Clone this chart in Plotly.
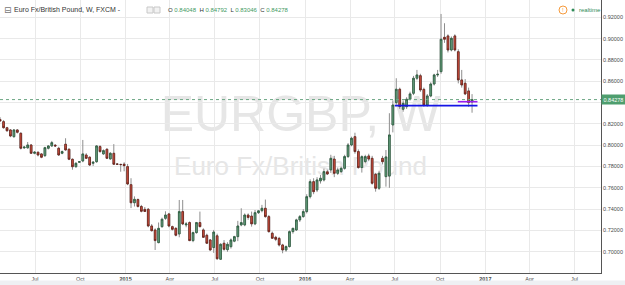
import plotly.graph_objects as go
import pandas as pd

# ---------------- data ----------------
symbol_title = "Euro Fx/British Pound, W, FXCM"
watermark_symbol = "EURGBP, W"
watermark_name = "Euro Fx/British Pound"

weeks = pd.date_range("2014-04-21", periods=138, freq="7D")

opens = [0.8240, 0.8221, 0.8164, 0.8143, 0.8080, 0.8143, 0.8112, 0.7975, 0.7975, 0.8002,
         0.7924, 0.7934, 0.7918, 0.7902, 0.7971, 0.7993, 0.8000, 0.7971, 0.7924, 0.8009,
         0.7962, 0.7868, 0.7798, 0.7840, 0.7852, 0.7908, 0.7887, 0.7830, 0.7845, 0.7987,
         0.7918, 0.7962, 0.7871, 0.7924, 0.7824, 0.7820, 0.7822, 0.7799, 0.7630, 0.7460,
         0.7490, 0.7425, 0.7398, 0.7399, 0.7242, 0.7205, 0.7086, 0.7236, 0.7314, 0.7355,
         0.7236, 0.7220, 0.7167, 0.7377, 0.7252, 0.7274, 0.7105, 0.7180, 0.7274, 0.7205,
         0.7155, 0.7111, 0.7040, 0.7150, 0.6930, 0.7080, 0.7020, 0.7048, 0.7100, 0.7142,
         0.7252, 0.7252, 0.7345, 0.7335, 0.7262, 0.7367, 0.7386, 0.7408, 0.7330, 0.7174,
         0.7136, 0.7126, 0.7064, 0.7017, 0.7049, 0.7189, 0.7205, 0.7299, 0.7330, 0.7377,
         0.7517, 0.7658, 0.7580, 0.7665, 0.7674, 0.7750, 0.7768, 0.7870, 0.7736, 0.7752,
         0.7783, 0.7893, 0.8002, 0.8080, 0.7940, 0.7790, 0.7846, 0.7899, 0.7877, 0.7727,
         0.7596, 0.7877, 0.7705, 0.7710, 0.8190, 0.8399, 0.8525, 0.8337, 0.8361, 0.8431,
         0.8487, 0.8628, 0.8652, 0.8524, 0.8377, 0.8462, 0.8574, 0.8659, 0.8690, 0.9012,
         0.9025, 0.8893, 0.9025, 0.8877, 0.8612, 0.8581, 0.8509, 0.84048]
highs = [0.8262, 0.8235, 0.8172, 0.8150, 0.8150, 0.8150, 0.8120, 0.7990, 0.8030, 0.8010,
         0.7945, 0.7940, 0.7925, 0.7985, 0.8000, 0.8040, 0.8010, 0.7985, 0.7950, 0.8065,
         0.7970, 0.7875, 0.7840, 0.7850, 0.8049, 0.7925, 0.7895, 0.7850, 0.8000, 0.8000,
         0.7960, 0.7970, 0.7935, 0.8010, 0.7830, 0.7825, 0.7840, 0.7824, 0.7690, 0.7520,
         0.7500, 0.7440, 0.7420, 0.7410, 0.7260, 0.7220, 0.7275, 0.7320, 0.7380, 0.7365,
         0.7245, 0.7230, 0.7486, 0.7486, 0.7280, 0.7285, 0.7190, 0.7280, 0.7377, 0.7220,
         0.7170, 0.7120, 0.7205, 0.7170, 0.7080, 0.7110, 0.7090, 0.7125, 0.7150, 0.7290,
         0.7408, 0.7360, 0.7360, 0.7377, 0.7392, 0.7390, 0.7440, 0.7490, 0.7345, 0.7190,
         0.7150, 0.7140, 0.7075, 0.7060, 0.7200, 0.7225, 0.7310, 0.7345, 0.7400, 0.7540,
         0.7680, 0.7690, 0.7700, 0.7720, 0.7780, 0.7770, 0.7910, 0.7900, 0.7790, 0.7800,
         0.7910, 0.8020, 0.8080, 0.8117, 0.7960, 0.7905, 0.7910, 0.7920, 0.7900, 0.7740,
         0.7760, 0.7900, 0.7955, 0.8300, 0.8420, 0.8628, 0.8540, 0.8420, 0.8450, 0.8502,
         0.8650, 0.8706, 0.8670, 0.8540, 0.8480, 0.8590, 0.8670, 0.8706, 0.9231, 0.9144,
         0.9040, 0.9020, 0.9040, 0.8900, 0.8706, 0.8620, 0.8540, 0.84792]
lows = [0.8222, 0.8155, 0.8125, 0.8075, 0.8070, 0.8110, 0.7960, 0.7965, 0.7968, 0.7918,
        0.7915, 0.7895, 0.7878, 0.7890, 0.7960, 0.7985, 0.7985, 0.7900, 0.7915, 0.7950,
        0.7860, 0.7770, 0.7790, 0.7835, 0.7840, 0.7870, 0.7805, 0.7805, 0.7835, 0.7930,
        0.7910, 0.7870, 0.7865, 0.7815, 0.7815, 0.7751, 0.7755, 0.7625, 0.7410, 0.7425,
        0.7415, 0.7370, 0.7375, 0.7230, 0.7190, 0.7017, 0.7080, 0.7225, 0.7300, 0.7230,
        0.7200, 0.7145, 0.7136, 0.7250, 0.7230, 0.7100, 0.7090, 0.7170, 0.7230, 0.7130,
        0.7075, 0.7010, 0.6990, 0.6925, 0.6925, 0.7010, 0.7000, 0.7030, 0.7090, 0.7100,
        0.7240, 0.7240, 0.7300, 0.7236, 0.7250, 0.7355, 0.7370, 0.7320, 0.7180, 0.7120,
        0.7100, 0.7050, 0.6986, 0.7000, 0.7040, 0.7170, 0.7195, 0.7280, 0.7320, 0.7360,
        0.7500, 0.7540, 0.7560, 0.7640, 0.7660, 0.7720, 0.7740, 0.7700, 0.7720, 0.7740,
        0.7770, 0.7880, 0.7990, 0.7920, 0.7780, 0.7743, 0.7830, 0.7850, 0.7630, 0.7564,
        0.7580, 0.7820, 0.7611, 0.7600, 0.8120, 0.8380, 0.8340, 0.8314, 0.8340, 0.8420,
        0.8470, 0.8610, 0.8500, 0.8361, 0.8360, 0.8450, 0.8560, 0.8640, 0.8670, 0.8960,
        0.8870, 0.8880, 0.8880, 0.8580, 0.8540, 0.8470, 0.8360, 0.83046]
closes = [0.8228, 0.8164, 0.8136, 0.8086, 0.8143, 0.8121, 0.7971, 0.7982, 0.8002, 0.7924,
          0.7934, 0.7908, 0.7887, 0.7977, 0.7993, 0.8024, 0.7993, 0.7908, 0.7940, 0.7955,
          0.7868, 0.7798, 0.7830, 0.7845, 0.7918, 0.7877, 0.7814, 0.7840, 0.7993, 0.7940,
          0.7949, 0.7877, 0.7924, 0.7821, 0.7821, 0.7818, 0.7808, 0.7636, 0.7460, 0.7492,
          0.7425, 0.7380, 0.7378, 0.7242, 0.7198, 0.7105, 0.7220, 0.7305, 0.7345, 0.7242,
          0.7211, 0.7155, 0.7377, 0.7261, 0.7261, 0.7105, 0.7180, 0.7274, 0.7236, 0.7136,
          0.7080, 0.7017, 0.7185, 0.6935, 0.7070, 0.7023, 0.7070, 0.7111, 0.7142, 0.7242,
          0.7274, 0.7345, 0.7322, 0.7262, 0.7367, 0.7384, 0.7408, 0.7330, 0.7189, 0.7127,
          0.7117, 0.7064, 0.7017, 0.7049, 0.7189, 0.7220, 0.7299, 0.7330, 0.7377, 0.7517,
          0.7658, 0.7564, 0.7674, 0.7690, 0.7752, 0.7730, 0.7877, 0.7736, 0.7768, 0.7783,
          0.7893, 0.8002, 0.8065, 0.7940, 0.7790, 0.7893, 0.7893, 0.7870, 0.7643, 0.7596,
          0.7737, 0.7845, 0.7890, 0.8096, 0.8377, 0.8525, 0.8362, 0.8393, 0.8431, 0.8481,
          0.8628, 0.8659, 0.8518, 0.8377, 0.8462, 0.8574, 0.8659, 0.8665, 0.8994, 0.8994,
          0.8893, 0.9003, 0.8893, 0.8612, 0.8565, 0.8481, 0.8399, 0.84278]

price_ticks = [0.70, 0.72, 0.74, 0.76, 0.78, 0.80, 0.82, 0.84, 0.86, 0.88, 0.90, 0.92]
time_ticks = ["2014-07-01", "2014-10-01", "2015-01-01", "2015-04-01", "2015-07-01",
              "2015-10-01", "2016-01-01", "2016-04-01", "2016-07-01", "2016-10-01",
              "2017-01-01", "2017-04-01", "2017-07-01"]
time_tick_labels = ["Jul", "Oct", "<b>2015</b>", "Apr", "Jul", "Oct", "<b>2016</b>",
                    "Apr", "Jul", "Oct", "<b>2017</b>", "Apr", "Jul"]

support_level = 0.8371
support_span = ["2016-07-01", "2016-12-16"]
entry_level = 0.8408
entry_span = ["2016-11-06", "2016-12-16"]

x_range = ["2014-04-20 18:00", "2017-08-24"]
y_range = [0.6801, 0.9362]

# ---------------- style ----------------
UP_FILL, UP_LINE = "#6ba583", "#225437"
DN_FILL, DN_LINE = "#d75442", "#5b1a13"
WICK = "#8e8e8e"
GRID = "#e9e9e9"
AXIS = "#555555"
TXT = "#4a4a4a"
FONT = "Liberation Sans, Arial, sans-serif"

body_hi = [max(o, c) for o, c in zip(opens, closes)]
body_lo = [min(o, c) for o, c in zip(opens, closes)]

fig = go.Figure()
# wicks
fig.add_trace(go.Candlestick(
    x=weeks, open=opens, high=highs, low=lows, close=closes,
    increasing=dict(line=dict(color=WICK, width=1), fillcolor=UP_FILL),
    decreasing=dict(line=dict(color=WICK, width=1), fillcolor=DN_FILL),
    showlegend=False, hoverinfo="skip"))
# bodies with dark borders
fig.add_trace(go.Candlestick(
    x=weeks, open=opens, high=body_hi, low=body_lo, close=closes,
    increasing=dict(line=dict(color=UP_LINE, width=0.7), fillcolor=UP_FILL),
    decreasing=dict(line=dict(color=DN_LINE, width=0.7), fillcolor=DN_FILL),
    showlegend=False))

shapes = []
# watermark (behind candles)
shapes.append(dict(type="rect", xref="paper", yref="paper", x0=0.2, x1=0.8, y0=0.50, y1=0.70,
                   line=dict(width=0), fillcolor="rgba(0,0,0,0)", layer="below",
                   label=dict(text=watermark_symbol, font=dict(size=50, color="#e6e6e6", family=FONT),
                              textposition="middle center")))
shapes.append(dict(type="rect", xref="paper", yref="paper", x0=0.2, x1=0.8, y0=0.33, y1=0.47,
                   line=dict(width=0), fillcolor="rgba(0,0,0,0)", layer="below",
                   label=dict(text=watermark_name, font=dict(size=26, color="#e6e6e6", family=FONT),
                              textposition="middle center")))
# last price dotted line
shapes.append(dict(type="line", xref="paper", yref="y", x0=0, x1=1, y0=closes[-1], y1=closes[-1],
                   line=dict(color=UP_FILL, width=1, dash="dot")))
# drawn levels
shapes.append(dict(type="line", xref="x", yref="y", x0=support_span[0], x1=support_span[1],
                   y0=support_level, y1=support_level, line=dict(color="#1414e6", width=1.6)))
shapes.append(dict(type="line", xref="x", yref="y", x0=entry_span[0], x1=entry_span[1],
                   y0=entry_level, y1=entry_level, line=dict(color="#9b1cf0", width=1.6)))
# header icons
def px2paper(px, py):
    return px / 601.0, (273.0 - py) / 273.0
for x0 in (147, 154):
    a = px2paper(x0, 7); b = px2paper(x0 + 6, 13)
    shapes.append(dict(type="rect", xref="paper", yref="paper", x0=a[0], x1=b[0], y0=b[1], y1=a[1],
                       line=dict(color="#c8c8c8", width=1), fillcolor="#f2f2f2"))
# realtime icons
a = px2paper(559, 6); b = px2paper(567, 14)
shapes.append(dict(type="circle", xref="paper", yref="paper", x0=a[0], x1=b[0], y0=b[1], y1=a[1],
                   line=dict(color="#f59a3c", width=1)))
a = px2paper(571.5, 8.5); b = px2paper(574.5, 11.5)
shapes.append(dict(type="circle", xref="paper", yref="paper", x0=a[0], x1=b[0], y0=b[1], y1=a[1],
                   line=dict(color="#2e8b57", width=0), fillcolor="#2e8b57"))
# bottom band
shapes.append(dict(type="rect", xref="paper", yref="paper", x0=-0.01, x1=1.05,
                   y0=(273 - 286) / 273.0, y1=(273 - 280.5) / 273.0,
                   line=dict(width=0), fillcolor="#eef0f3"))

ann = []
hx, hy = px2paper(2, 10)
ann.append(dict(x=hx, y=hy, xref="paper", yref="paper", text="⊟", showarrow=False,
                xanchor="left", yanchor="middle", font=dict(size=9, color="#777", family="DejaVu Sans")))
hx, hy = px2paper(12, 10)
ann.append(dict(x=hx, y=hy, xref="paper", yref="paper", text=symbol_title + " -", showarrow=False,
                xanchor="left", yanchor="middle", font=dict(size=7, color="#333", family=FONT)))
G = "#3f9a63"
ohlc_txt = ("O <span style='color:%s'>%.5f</span>  H <span style='color:%s'>%.5f</span>  "
            "L <span style='color:%s'>%.5f</span>  C <span style='color:%s'>%.5f</span>") % (
    G, opens[-1], G, highs[-1], G, lows[-1], G, closes[-1])
hx, hy = px2paper(166, 10)
ann.append(dict(x=hx, y=hy, xref="paper", yref="paper", text=ohlc_txt, showarrow=False,
                xanchor="left", yanchor="middle", font=dict(size=6, color="#333", family=FONT)))
hx, hy = px2paper(563, 10)
ann.append(dict(x=hx, y=hy, xref="paper", yref="paper", text="!", showarrow=False,
                xanchor="center", yanchor="middle", font=dict(size=6, color="#f59a3c", family=FONT)))
hx, hy = px2paper(577, 10)
ann.append(dict(x=hx, y=hy, xref="paper", yref="paper", text="realtime", showarrow=False,
                xanchor="left", yanchor="middle", font=dict(size=6, color="#2e8b57", family=FONT)))
# last price label on axis
ann.append(dict(x=1, y=closes[-1], xref="paper", yref="y", text="%.5f" % closes[-1], showarrow=False,
                xanchor="left", yanchor="middle", bgcolor="#4e9e6e", borderpad=1.5,
                font=dict(size=5.5, color="white", family=FONT)))

fig.update_layout(
    width=625, height=285,
    margin=dict(l=0, r=24, t=0, b=12),
    paper_bgcolor="white", plot_bgcolor="white",
    showlegend=False,
    shapes=shapes, annotations=ann,
    font=dict(family=FONT, color=TXT),
    xaxis=dict(type="date", range=x_range, tickvals=time_ticks, ticktext=time_tick_labels,
               showgrid=True, gridcolor=GRID, gridwidth=1, showline=True, linecolor=AXIS,
               linewidth=1, ticks="", tickfont=dict(size=5.5, color=TXT), zeroline=False,
               rangeslider=dict(visible=False), fixedrange=True),
    yaxis=dict(side="right", range=y_range, tickvals=price_ticks,
               ticktext=["%.5f" % v for v in price_ticks],
               showgrid=True, gridcolor=GRID, gridwidth=1, showline=True, linecolor=AXIS,
               linewidth=1, ticks="", tickfont=dict(size=5.5, color=TXT), zeroline=False,
               fixedrange=True),
)

fig.write_html("out.html")
